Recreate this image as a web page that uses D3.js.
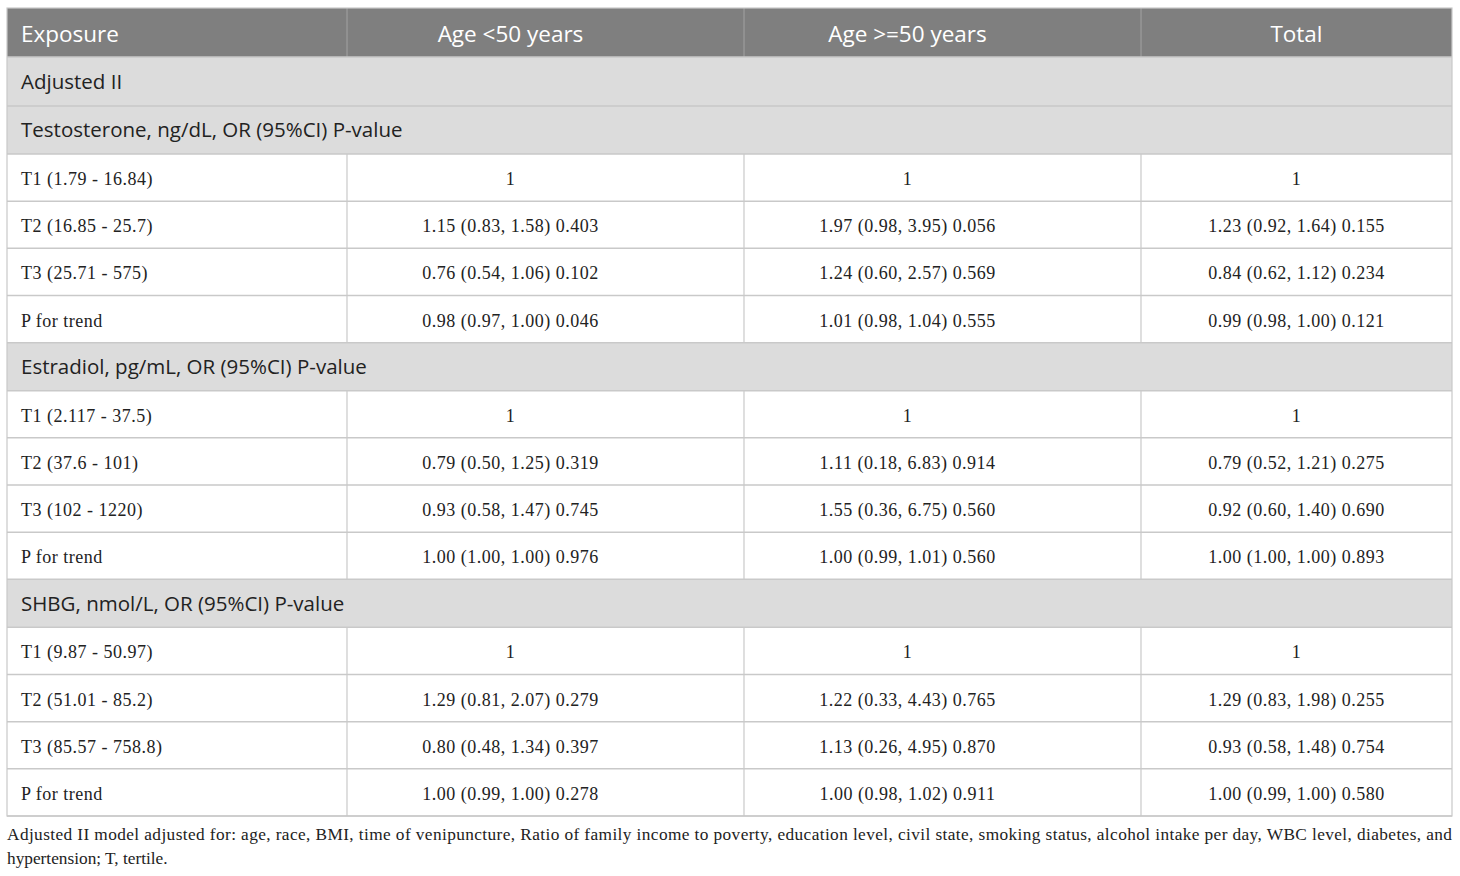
<!DOCTYPE html>
<html>
<head>
<meta charset="utf-8">
<script src="https://cdn.jsdelivr.net/npm/d3@7"></script>
<style>
  html, body { margin: 0; padding: 0; background: #fff; }
  svg { display: block; }
</style>
</head>
<body>
<svg id="chart" width="1460" height="876"></svg>
<script>
// column headers
const columns = ["Exposure", "Age <50 years", "Age >=50 years", "Total"];

// group headings
const groups = [
  "Testosterone, ng/dL, OR (95%CI) P-value",
  "Estradiol, pg/mL, OR (95%CI) P-value",
  "SHBG, nmol/L, OR (95%CI) P-value"
];

// row labels per group
const testosteroneLabels = ["T1 (1.79 - 16.84)", "T2 (16.85 - 25.7)", "T3 (25.71 - 575)", "P for trend"];
const estradiolLabels = ["T1 (2.117 - 37.5)", "T2 (37.6 - 101)", "T3 (102 - 1220)", "P for trend"];
const shbgLabels = ["T1 (9.87 - 50.97)", "T2 (51.01 - 85.2)", "T3 (85.57 - 758.8)", "P for trend"];

// values: [age<50, age>=50, total]
const testosteroneValues = [
  ["1", "1", "1"],
  ["1.15 (0.83, 1.58) 0.403", "1.97 (0.98, 3.95) 0.056", "1.23 (0.92, 1.64) 0.155"],
  ["0.76 (0.54, 1.06) 0.102", "1.24 (0.60, 2.57) 0.569", "0.84 (0.62, 1.12) 0.234"],
  ["0.98 (0.97, 1.00) 0.046", "1.01 (0.98, 1.04) 0.555", "0.99 (0.98, 1.00) 0.121"]
];
const estradiolValues = [
  ["1", "1", "1"],
  ["0.79 (0.50, 1.25) 0.319", "1.11 (0.18, 6.83) 0.914", "0.79 (0.52, 1.21) 0.275"],
  ["0.93 (0.58, 1.47) 0.745", "1.55 (0.36, 6.75) 0.560", "0.92 (0.60, 1.40) 0.690"],
  ["1.00 (1.00, 1.00) 0.976", "1.00 (0.99, 1.01) 0.560", "1.00 (1.00, 1.00) 0.893"]
];
const shbgValues = [
  ["1", "1", "1"],
  ["1.29 (0.81, 2.07) 0.279", "1.22 (0.33, 4.43) 0.765", "1.29 (0.83, 1.98) 0.255"],
  ["0.80 (0.48, 1.34) 0.397", "1.13 (0.26, 4.95) 0.870", "0.93 (0.58, 1.48) 0.754"],
  ["1.00 (0.99, 1.00) 0.278", "1.00 (0.98, 1.02) 0.911", "1.00 (0.99, 1.00) 0.580"]
];

const modelLabel = "Adjusted II";

const footnoteLines = [
  "Adjusted II model adjusted for: age, race, BMI, time of venipuncture, Ratio of family income to poverty, education level, civil state, smoking status, alcohol intake per day, WBC level, diabetes, and",
  "hypertension; T, tertile."
];

// ---------- build rows ----------
const rows = [{ type: "model", text: modelLabel }];
const groupLabels = [testosteroneLabels, estradiolLabels, shbgLabels];
const groupValues = [testosteroneValues, estradiolValues, shbgValues];
groups.forEach((g, gi) => {
  rows.push({ type: "group", text: g });
  groupLabels[gi].forEach((lab, ri) => {
    rows.push({ type: "data", cells: [lab].concat(groupValues[gi][ri]) });
  });
});
rows.forEach((r, i) => r.id = i);

// ---------- layout ----------
const left = 7, right = 1452;
const headerTop = 8, headerBottom = 57, tableBottom = 816;
const colWidths = [340, 397, 397, 311];
const textShift = [0, -35, -35, 0]; // centred text sits a bit left in the middle columns
const colEdges = [left].concat(Array.from(d3.cumsum(colWidths), w => left + w));

const x = d3.scaleOrdinal().domain(columns).range(colEdges.slice(0, 4));
const colW = d3.scaleOrdinal().domain(columns).range(colWidths);
const colShift = d3.scaleOrdinal().domain(columns).range(textShift);

// row heights by type, scaled to fill the table body
const rowWeight = { model: 49, group: 48, data: 47.17 };
const weights = rows.map(r => rowWeight[r.type]);
const tops = [0].concat(Array.from(d3.cumsum(weights)));
const yLin = d3.scaleLinear().domain([0, d3.sum(weights)]).range([headerBottom, tableBottom]);
const y = d3.scaleOrdinal().domain(rows.map(r => r.id)).range(tops.slice(0, rows.length).map(yLin));
const h = d3.scaleOrdinal().domain(rows.map(r => r.id))
  .range(rows.map((r, i) => yLin(tops[i + 1]) - yLin(tops[i])));

const svg = d3.select("#chart");
const lineColor = "#c9c9c9";
const sans = "'Open Sans', 'Noto Sans', sans-serif";
const serif = "'Liberation Serif', 'Times New Roman', serif";

// header
svg.append("rect")
  .attr("x", left).attr("y", headerTop)
  .attr("width", right - left).attr("height", headerBottom - headerTop)
  .attr("fill", "#7f7f7f");

svg.selectAll("text.colhead")
  .data(columns)
  .join("text")
  .attr("class", "colhead")
  .attr("x", (d, i) => i === 0 ? x(d) + 14 : x(d) + colW(d) / 2 + colShift(d))
  .attr("y", (headerTop + headerBottom) / 2)
  .attr("dy", "0.4em")
  .attr("text-anchor", (d, i) => i === 0 ? "start" : "middle")
  .style("font-family", sans)
  .style("font-size", "22.5px")
  .style("fill", "#fff")
  .text(d => d);

// header column dividers
svg.selectAll("line.hdiv")
  .data(columns.slice(1))
  .join("line")
  .attr("class", "hdiv")
  .attr("x1", d => x(d)).attr("x2", d => x(d))
  .attr("y1", headerTop).attr("y2", headerBottom)
  .attr("stroke", "#a3a3a3").attr("stroke-width", 1);

// row backgrounds
const rowG = svg.selectAll("g.row")
  .data(rows)
  .join("g")
  .attr("class", "row")
  .attr("transform", d => `translate(0, ${y(d.id)})`);

rowG.append("rect")
  .attr("x", left).attr("width", right - left)
  .attr("height", d => h(d.id))
  .attr("fill", d => d.type === "data" ? "#fff" : "#dcdcdc");

// spanning rows text
rowG.filter(d => d.type !== "data")
  .append("text")
  .attr("x", left + 14)
  .attr("y", d => h(d.id) / 2)
  .attr("dy", "0.36em")
  .style("font-family", sans)
  .style("font-size", "20.5px")
  .style("fill", "#222")
  .text(d => d.text);

// data cells
rowG.filter(d => d.type === "data")
  .selectAll("text.cell")
  .data(d => d.cells.map((c, i) => ({ col: columns[i], text: c, i, hh: h(d.id) })))
  .join("text")
  .attr("class", "cell")
  .attr("x", d => d.i === 0 ? x(d.col) + 14 : x(d.col) + colW(d.col) / 2 + colShift(d.col))
  .attr("y", d => d.hh / 2)
  .attr("dy", "0.42em")
  .attr("text-anchor", d => d.i === 0 ? "start" : "middle")
  .style("font-family", serif)
  .style("font-size", "18px")
  .style("letter-spacing", "0.5px")
  .style("fill", "#222")
  .text(d => d.text);

// vertical dividers in data rows
rowG.filter(d => d.type === "data")
  .selectAll("line.vdiv")
  .data(d => columns.slice(1).map(c => ({ col: c, hh: h(d.id) })))
  .join("line")
  .attr("class", "vdiv")
  .attr("x1", d => x(d.col)).attr("x2", d => x(d.col))
  .attr("y1", 0).attr("y2", d => d.hh)
  .attr("stroke", lineColor).attr("stroke-width", 1.2);

// horizontal lines
svg.selectAll("line.hline")
  .data(rows.map(r => y(r.id)).concat([tableBottom]))
  .join("line")
  .attr("class", "hline")
  .attr("x1", left).attr("x2", right)
  .attr("y1", d => d).attr("y2", d => d)
  .attr("stroke", lineColor).attr("stroke-width", 1.5);

// outer border
svg.append("rect")
  .attr("x", left).attr("y", headerTop)
  .attr("width", right - left).attr("height", tableBottom - headerTop)
  .attr("fill", "none")
  .attr("stroke", lineColor).attr("stroke-width", 1.2);

// footnote
svg.selectAll("text.foot")
  .data(footnoteLines)
  .join("text")
  .attr("class", "foot")
  .attr("x", left)
  .attr("y", (d, i) => 840 + i * 24)
  .attr("textLength", (d, i) => i === 0 ? right - left : null)
  .attr("lengthAdjust", "spacing")
  .style("font-family", serif)
  .style("font-size", "17.3px")
  .style("fill", "#222")
  .text(d => d);
</script>
</body>
</html>
